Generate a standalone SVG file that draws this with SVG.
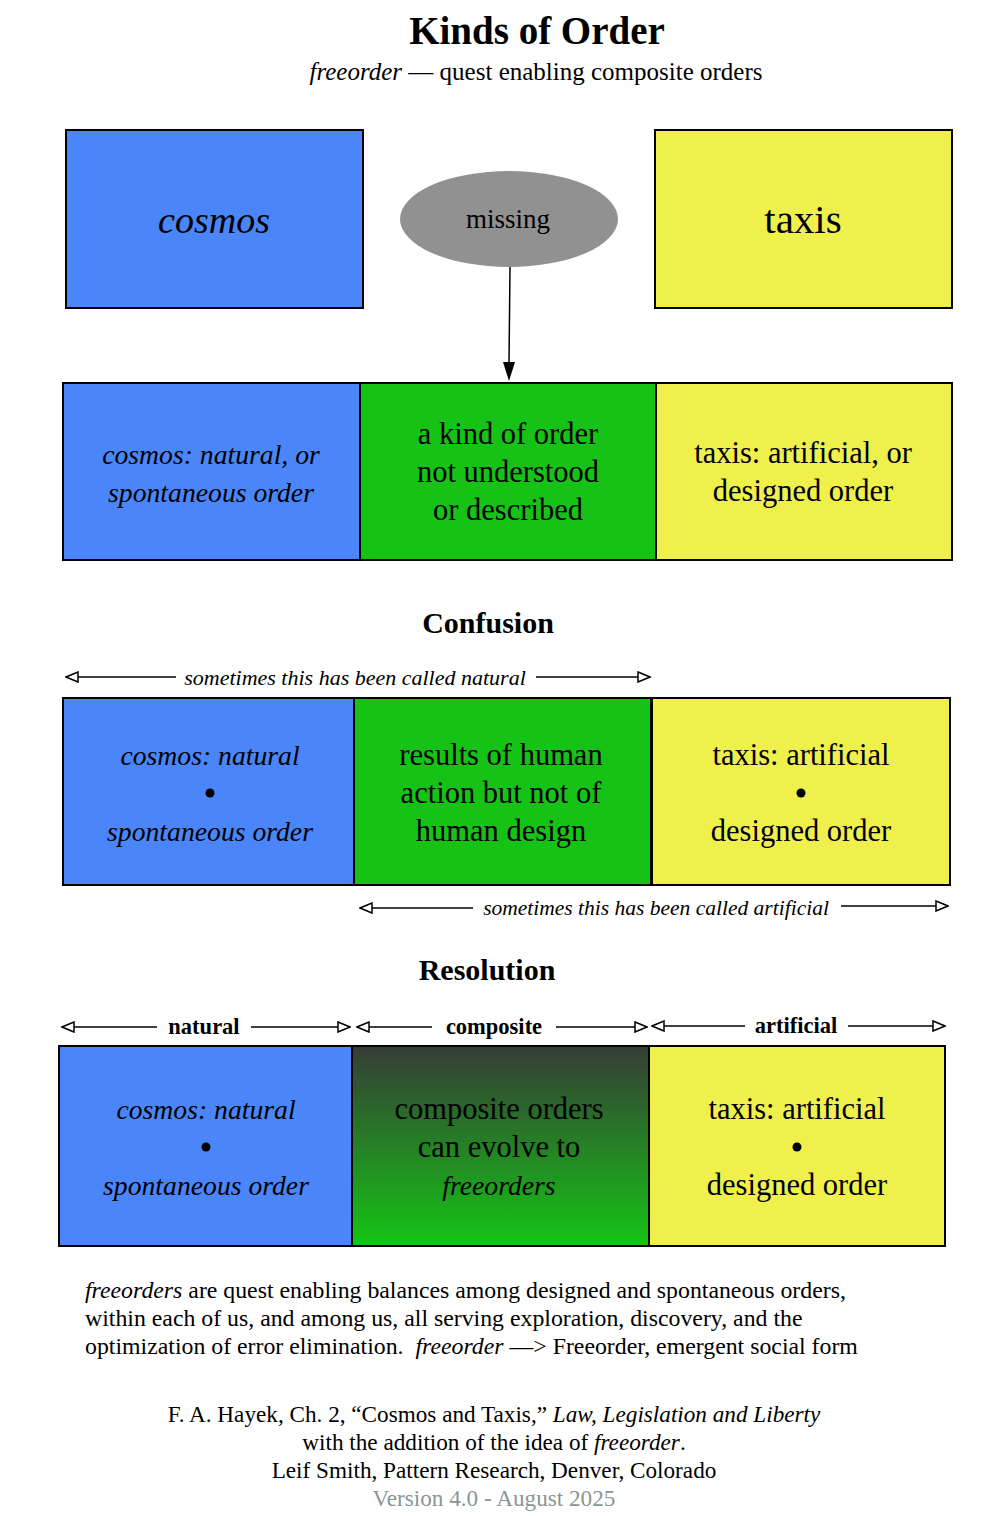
<svg xmlns="http://www.w3.org/2000/svg" width="994" height="1516" viewBox="0 0 994 1516" font-family="'Liberation Serif','Times New Roman',serif">
<defs>
<style>
text{font-family:"Liberation Serif","Times New Roman",serif;fill:#000}
.blue{fill:#4a86fa;stroke:#000;stroke-width:2}
.yel{fill:#f0f04c;stroke:#000;stroke-width:2}
.grn{fill:#17c217;stroke:#000;stroke-width:2}
.comp{fill:url(#cg);stroke:#000;stroke-width:2}
.mid{font-family:"Liberation Serif",serif;font-size:30.5px;text-anchor:middle}
.it{font-family:"Liberation Serif",serif;font-size:27.7px;font-style:italic;text-anchor:middle}
.lbl{font-family:"Liberation Serif",serif;font-size:22px;font-style:italic;text-anchor:middle}
.blbl{font-family:"Liberation Serif",serif;font-size:22.5px;font-weight:bold;text-anchor:middle}
.head{font-family:"Liberation Serif",serif;font-size:30px;font-weight:bold;text-anchor:middle}
.ln{stroke:#000;stroke-width:1.5;fill:none}
.body{font-family:"Liberation Serif",serif;font-size:23.8px}
.foot{font-family:"Liberation Serif",serif;font-size:23.2px;text-anchor:middle}
</style>
<linearGradient id="cg" x1="0" y1="0" x2="0" y2="1">
<stop offset="0" stop-color="#363c36"/>
<stop offset="1" stop-color="#15c515"/>
</linearGradient>
<marker id="open" viewBox="0 0 14 12" refX="13" refY="6" markerWidth="14" markerHeight="12" markerUnits="userSpaceOnUse" orient="auto-start-reverse">
<path d="M1,1 L13,6 L1,11 Z" fill="#fff" stroke="#000" stroke-width="1.5"/>
</marker>
<marker id="solid" viewBox="0 0 12 20" refX="6" refY="20" markerWidth="12" markerHeight="20" markerUnits="userSpaceOnUse" orient="auto">
<path d="M0,0 L12,0 L6,20 Z" fill="#000" transform="rotate(-90 6 10)"/>
</marker>
</defs>
<rect width="994" height="1516" fill="#fff"/>

<g id="title">
<text x="537" y="44" font-size="39" font-weight="bold" text-anchor="middle">Kinds of Order</text>
<text x="536" y="80" font-size="25" text-anchor="middle"><tspan font-style="italic">freeorder</tspan> — quest enabling composite orders</text>
</g>

<g id="cosmos">
<rect class="blue" x="66" y="130" width="297" height="178"/>
<text class="it" x="214" y="233" style="font-size:38px">cosmos</text>
</g>
<g id="missing">
<ellipse cx="509" cy="219" rx="109" ry="48" fill="#919191"/>
<text x="508" y="228" font-size="27" text-anchor="middle">missing</text>
</g>
<g id="taxis">
<rect class="yel" x="655" y="130" width="297" height="178"/>
<text class="mid" x="803" y="233" style="font-size:41px">taxis</text>
</g>

<g id="connectors">
<line class="ln" x1="510" y1="267" x2="509" y2="364"/>
<path d="M503,362 L515,362 L509,381 Z" fill="#000"/>
<line class="ln" x1="66" y1="677" x2="176" y2="677" marker-start="url(#open)"/>
<line class="ln" x1="536" y1="677" x2="650" y2="677" marker-end="url(#open)"/>
<line class="ln" x1="360" y1="908" x2="473" y2="908" marker-start="url(#open)"/>
<line class="ln" x1="841" y1="906" x2="948" y2="906" marker-end="url(#open)"/>
<line class="ln" x1="62" y1="1027" x2="157" y2="1027" marker-start="url(#open)"/>
<line class="ln" x1="251" y1="1027" x2="350" y2="1027" marker-end="url(#open)"/>
<line class="ln" x1="357" y1="1027" x2="432" y2="1027" marker-start="url(#open)"/>
<line class="ln" x1="556" y1="1027" x2="647" y2="1027" marker-end="url(#open)"/>
<line class="ln" x1="652" y1="1026" x2="745" y2="1026" marker-start="url(#open)"/>
<line class="ln" x1="848" y1="1026" x2="945" y2="1026" marker-end="url(#open)"/>
</g>

<g id="row1-cosmos">
<rect class="blue" x="63" y="383" width="297" height="177"/>
<text class="it" x="211" y="464">cosmos: natural, or</text>
<text class="it" x="211" y="502">spontaneous order</text>
</g>
<g id="row1-unknown">
<rect class="grn" x="360" y="383" width="296" height="177"/>
<text class="mid" x="508" y="444">a kind of order</text>
<text class="mid" x="508" y="482">not understood</text>
<text class="mid" x="508" y="520">or described</text>
</g>
<g id="row1-taxis">
<rect class="yel" x="656" y="383" width="296" height="177"/>
<text class="mid" x="803" y="463">taxis: artificial, or</text>
<text class="mid" x="803" y="501">designed order</text>
</g>

<g id="confusion">
<text class="head" x="488" y="633">Confusion</text>
<text class="lbl" x="355" y="685">sometimes this has been called natural</text>
<text class="lbl" x="656" y="915" style="font-size:21.5px">sometimes this has been called artificial</text>
</g>

<g id="row2-cosmos">
<rect class="blue" x="63" y="698" width="291" height="187"/>
<text class="it" x="210" y="765">cosmos: natural</text>
<circle cx="210" cy="793" r="4.5"/>
<text class="it" x="210" y="841">spontaneous order</text>
</g>
<g id="row2-results">
<rect class="grn" x="354" y="698" width="297" height="187"/>
<text class="mid" x="501" y="765">results of human</text>
<text class="mid" x="501" y="803">action but not of</text>
<text class="mid" x="501" y="841">human design</text>
</g>
<g id="row2-taxis">
<rect class="yel" x="652" y="698" width="298" height="187"/>
<text class="mid" x="801" y="765">taxis: artificial</text>
<circle cx="801" cy="793" r="4.5"/>
<text class="mid" x="801" y="841">designed order</text>
</g>

<g id="resolution">
<text class="head" x="487" y="980">Resolution</text>
<text class="blbl" x="204" y="1034">natural</text>
<text class="blbl" x="494" y="1034">composite</text>
<text class="blbl" x="796" y="1033">artificial</text>
</g>

<g id="row3-cosmos">
<rect class="blue" x="59" y="1046" width="293" height="200"/>
<text class="it" x="206" y="1119">cosmos: natural</text>
<circle cx="206" cy="1147" r="4.5"/>
<text class="it" x="206" y="1195">spontaneous order</text>
</g>
<g id="row3-composite">
<rect class="comp" x="352" y="1046" width="297" height="200"/>
<text class="mid" x="499" y="1119">composite orders</text>
<text class="mid" x="499" y="1157">can evolve to</text>
<text class="it" x="499" y="1195">freeorders</text>
</g>
<g id="row3-taxis">
<rect class="yel" x="649" y="1046" width="296" height="200"/>
<text class="mid" x="797" y="1119">taxis: artificial</text>
<circle cx="797" cy="1147" r="4.5"/>
<text class="mid" x="797" y="1195">designed order</text>
</g>

<g id="paragraph">
<text class="body" x="85" y="1298"><tspan font-style="italic">freeorders</tspan> are quest enabling balances among designed and spontaneous orders,</text>
<text class="body" x="85" y="1326">within each of us, and among us, all serving exploration, discovery, and the</text>
<text class="body" x="85" y="1354">optimization of error elimination.&#160; <tspan font-style="italic">freeorder</tspan> —&gt; Freeorder, emergent social form</text>
</g>

<g id="footer">
<text class="foot" x="494" y="1422">F. A. Hayek, Ch. 2, “Cosmos and Taxis,” <tspan font-style="italic">Law, Legislation and Liberty</tspan></text>
<text class="foot" x="494" y="1450">with the addition of the idea of <tspan font-style="italic">freeorder</tspan>.</text>
<text class="foot" x="494" y="1478">Leif Smith, Pattern Research, Denver, Colorado</text>
<text class="foot" x="494" y="1506" style="fill:#8a9595">Version 4.0 - August 2025</text>
</g>
</svg>
